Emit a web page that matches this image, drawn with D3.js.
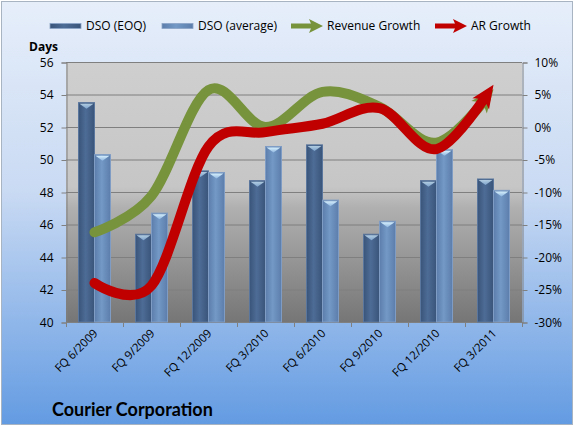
<!DOCTYPE html>
<html>
<head>
<meta charset="utf-8">
<script src="https://cdn.jsdelivr.net/npm/d3@7"></script>
<style>
  body { margin: 0; background: #fff; }
  svg { display: block; font-family: "Open Sans", sans-serif; }
</style>
</head>
<body>
<div id="chart"></div>
<script>
var quarters   = ['FQ 6/2009', 'FQ 9/2009', 'FQ 12/2009', 'FQ 3/2010', 'FQ 6/2010', 'FQ 9/2010', 'FQ 12/2010', 'FQ 3/2011'];
var dsoEoq     = [53.5, 45.4, 49.3, 48.7, 50.9, 45.4, 48.7, 48.8];
var dsoAvg     = [50.3, 46.7, 49.2, 50.8, 47.5, 46.2, 50.6, 48.1];
var revGrowth  = [-16.2, -10.6, 5.7, 0.0, 5.4, 3.1, -2.4, 5.8];
var arGrowth   = [-24.0, -24.4, -3.0, -0.8, 0.5, 2.9, -3.4, 6.5];
var daysTicks  = [40, 42, 44, 46, 48, 50, 52, 54, 56];
var pctTicks   = [-30, -25, -20, -15, -10, -5, 0, 5, 10];

var chart_width  = 575;
var chart_height = 427;
var plotLeft = 66, plotRight = 522, plotTop = 62, plotBottom = 322;

var svg = d3.select('#chart')
  .append('svg')
  .attr('width', chart_width)
  .attr('height', chart_height);

var defs = svg.append('defs');

// outer background
var bg = defs.append('linearGradient').attr('id', 'bg').attr('x1', 0).attr('y1', 0).attr('x2', 0).attr('y2', 1);
bg.append('stop').attr('offset', '0%').attr('stop-color', '#e6eefa');
bg.append('stop').attr('offset', '45%').attr('stop-color', '#c9daf3');
bg.append('stop').attr('offset', '100%').attr('stop-color', '#639be2');

// plot area
var pa = defs.append('linearGradient').attr('id', 'pa').attr('x1', 0).attr('y1', 0).attr('x2', 0).attr('y2', 1);
pa.append('stop').attr('offset', '0%').attr('stop-color', '#cfcfcf');
pa.append('stop').attr('offset', '48%').attr('stop-color', '#c6c6c6');
pa.append('stop').attr('offset', '56%').attr('stop-color', '#b0b0b0');
pa.append('stop').attr('offset', '100%').attr('stop-color', '#767676');

function barGrad(id, edge, mid) {
  var g = defs.append('linearGradient').attr('id', id).attr('x1', 0).attr('y1', 0).attr('x2', 1).attr('y2', 0);
  g.append('stop').attr('offset', '0%').attr('stop-color', edge);
  g.append('stop').attr('offset', '45%').attr('stop-color', mid);
  g.append('stop').attr('offset', '100%').attr('stop-color', edge);
}
barGrad('dark', '#3a5479', '#4d6c96');
barGrad('light', '#5b7dab', '#7499c7');

var cap = defs.append('linearGradient').attr('id', 'cap').attr('x1', 0).attr('y1', 0).attr('x2', 0).attr('y2', 1);
cap.append('stop').attr('offset', '0%').attr('stop-color', '#d6effc');
cap.append('stop').attr('offset', '100%').attr('stop-color', '#8fb7e0');

svg.append('rect')
  .attr('x', 1.5).attr('y', 1.5)
  .attr('width', 571).attr('height', 423)
  .attr('fill', 'url(#bg)')
  .attr('stroke', '#a9b4c2');

svg.append('rect')
  .attr('x', plotLeft).attr('y', plotTop)
  .attr('width', plotRight - plotLeft).attr('height', plotBottom - plotTop)
  .attr('fill', 'url(#pa)');

// scales
var x = d3.scaleBand().domain(quarters).range([plotLeft, plotRight]);
var xs = d3.scaleBand().domain(['eoq', 'avg']).range([12.5, 44.5]);
var yL = d3.scaleLinear().domain([40, 56]).range([plotBottom, plotTop]);
var yR = d3.scaleLinear().domain([-30, 10]).range([plotBottom, plotTop]);

// grid
svg.append('g')
  .selectAll('line')
  .data(daysTicks)
  .enter().append('line')
  .attr('x1', plotLeft).attr('x2', plotRight)
  .attr('y1', function(d) { return yL(d) + 0.5; })
  .attr('y2', function(d) { return yL(d) + 0.5; })
  .attr('stroke', '#7f7f7f');

// axes
var yAxis = d3.axisLeft(yL).tickValues(daysTicks).tickSize(5).tickPadding(8);
svg.append('g')
  .attr('transform', 'translate(' + (plotLeft + 0.5) + ',0.5)')
  .call(yAxis);

var y2Axis = d3.axisRight(yR).tickValues(pctTicks).tickSize(5).tickPadding(7)
  .tickFormat(function(d) { return d + '%'; });
svg.append('g')
  .attr('transform', 'translate(' + (plotRight + 0.5) + ',0.5)')
  .call(y2Axis);

svg.selectAll('.domain').attr('stroke', '#808080');
svg.selectAll('.tick line').attr('stroke', '#808080');
svg.selectAll('.tick text').attr('font-size', 12).attr('fill', '#000')
  .attr('font-family', '"Open Sans", sans-serif');

// bottom axis
var bounds = quarters.map(function(q) { return x(q); }).concat([plotRight]);
svg.append('line')
  .attr('x1', plotLeft).attr('x2', plotRight)
  .attr('y1', plotBottom + 0.5).attr('y2', plotBottom + 0.5)
  .attr('stroke', '#808080');
svg.append('g').selectAll('line')
  .data(bounds)
  .enter().append('line')
  .attr('x1', function(d) { return d + 0.5; })
  .attr('x2', function(d) { return d + 0.5; })
  .attr('y1', plotBottom).attr('y2', plotBottom + 5)
  .attr('stroke', '#808080');

svg.append('g').selectAll('text')
  .data(quarters)
  .enter().append('text')
  .attr('transform', function(d) {
    return 'translate(' + (x(d) + x.bandwidth() / 2 + 4) + ',' + (plotBottom + 12) + ') rotate(-45)';
  })
  .attr('text-anchor', 'end')
  .attr('font-size', 11.5)
  .text(function(d) { return d; });

// bars
var barData = [];
quarters.forEach(function(q, i) {
  barData.push({ q: q, s: 'eoq', v: dsoEoq[i] });
  barData.push({ q: q, s: 'avg', v: dsoAvg[i] });
});

var bars = svg.append('g').selectAll('g')
  .data(barData)
  .enter().append('g');

bars.append('rect')
  .attr('x', function(d) { return x(d.q) + xs(d.s); })
  .attr('y', function(d) { return yL(d.v); })
  .attr('width', xs.bandwidth())
  .attr('height', function(d) { return plotBottom - yL(d.v); })
  .attr('fill', function(d) { return d.s === 'eoq' ? 'url(#dark)' : 'url(#light)'; })
  .attr('stroke', function(d) { return d.s === 'eoq' ? '#5a769c' : '#7f9cc4'; })
  .attr('stroke-width', 1);

bars.append('path')
  .attr('d', function(d) {
    var x0 = x(d.q) + xs(d.s), w = xs.bandwidth(), t = yL(d.v);
    return 'M' + (x0 + 1) + ',' + (t + 1) + 'L' + (x0 + w - 1) + ',' + (t + 1) +
      'L' + (x0 + w / 2) + ',' + (t + 6) + 'Z';
  })
  .attr('fill', 'url(#cap)')
  .attr('opacity', function(d) { return d.s === 'eoq' ? 0.75 : 1; });

// lines
var line = d3.line()
  .x(function(d, i) { return x(quarters[i]) + x.bandwidth() / 2; })
  .y(function(d) { return yR(d); })
  .curve(d3.curveCatmullRom.alpha(0));

function arrowLine(values, color) {
  var p = svg.append('path')
    .datum(values)
    .attr('d', line)
    .attr('fill', 'none')
    .attr('stroke', color)
    .attr('stroke-width', 10)
    .attr('stroke-linecap', 'round');
  var node = p.node();
  var L = node.getTotalLength();
  var headLen = 20;
  p.attr('stroke-dasharray', (L - headLen + 4) + ' ' + L);
  var tip = node.getPointAtLength(L);
  var base = node.getPointAtLength(L - headLen);
  var dx = tip.x - base.x, dy = tip.y - base.y;
  var len = Math.sqrt(dx * dx + dy * dy);
  var nx = -dy / len, ny = dx / len;
  var half = 10;
  svg.append('path')
    .attr('d', 'M' + tip.x + ',' + tip.y +
      'L' + (base.x + nx * half - dx * 0.15) + ',' + (base.y + ny * half - dy * 0.15) +
      'L' + (base.x + dx * 0.15) + ',' + (base.y + dy * 0.15) +
      'L' + (base.x - nx * half - dx * 0.15) + ',' + (base.y - ny * half - dy * 0.15) + 'Z')
    .attr('fill', color);
}

arrowLine(revGrowth, '#77933c');
arrowLine(arGrowth, '#c00000');

// axis title
svg.append('text')
  .attr('x', 29).attr('y', 51)
  .attr('font-size', 12).attr('font-weight', 'bold')
  .text('Days');

// legend
var legend = [
  { name: 'DSO (EOQ)', type: 'bar', fill: 'url(#dark)', x: 50 },
  { name: 'DSO (average)', type: 'bar', fill: 'url(#light)', x: 162 },
  { name: 'Revenue Growth', type: 'arrow', fill: '#77933c', x: 291 },
  { name: 'AR Growth', type: 'arrow', fill: '#c00000', x: 435 }
];
var lg = svg.append('g').selectAll('g')
  .data(legend)
  .enter().append('g')
  .attr('transform', function(d) { return 'translate(' + d.x + ',26)'; });

lg.filter(function(d) { return d.type === 'bar'; })
  .append('rect')
  .attr('x', 0).attr('y', -2.5).attr('width', 31).attr('height', 5)
  .attr('fill', function(d) { return d.fill; })
  .attr('stroke', '#8aa4c6').attr('stroke-width', 0.8);

var la = lg.filter(function(d) { return d.type === 'arrow'; });
la.append('line')
  .attr('x1', 0).attr('x2', 22).attr('y1', 0).attr('y2', 0)
  .attr('stroke', function(d) { return d.fill; })
  .attr('stroke-width', 5);
la.append('path')
  .attr('d', 'M32,0L18,-7L21,0L18,7Z')
  .attr('fill', function(d) { return d.fill; });

lg.append('text')
  .attr('x', 36).attr('y', 4)
  .attr('font-size', 12)
  .text(function(d) { return d.name; });

// title
svg.append('text')
  .attr('x', 52).attr('y', 416)
  .attr('font-size', 18).attr('font-weight', 'bold')
  .attr('font-family', 'Lato, sans-serif')
  .text('Courier Corporation');
</script>
</body>
</html>
